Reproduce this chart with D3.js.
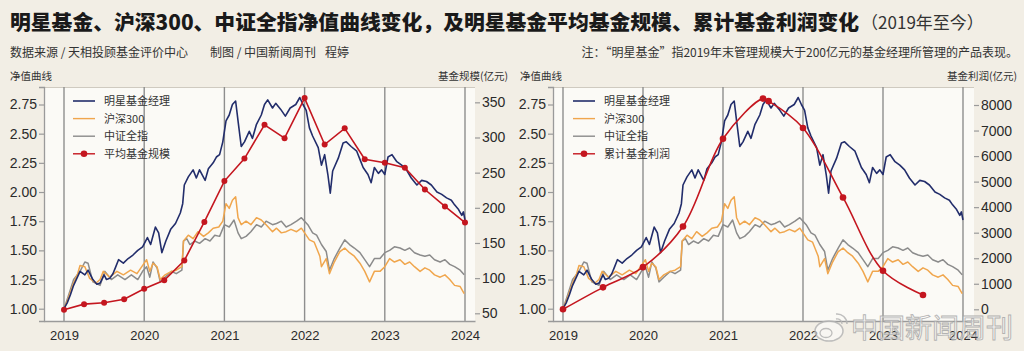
<!DOCTYPE html>
<html><head><meta charset="utf-8">
<script src="https://cdn.jsdelivr.net/npm/d3@7"></script>
<style>
html,body{margin:0;padding:0;background:#f2eee5;}
svg{display:block;}
text{font-family:"Noto Sans CJK SC","Noto Sans",sans-serif;}
</style></head>
<body>
<svg id="c" width="1024" height="351"></svg>
<script>
// ---------- data ----------
const years = [2019, 2020, 2021, 2022, 2023, 2024];
const navTicks = [1.00, 1.25, 1.50, 1.75, 2.00, 2.25, 2.50, 2.75];
const scaleTicks = [50, 100, 150, 200, 250, 300, 350];
const profitTicks = [0, 1000, 2000, 3000, 4000, 5000, 6000, 7000, 8000];
const seriesNames = ["明星基金经理", "沪深300", "中证全指"];

const starNav = [[2019.00,1.00],[2019.04,1.05],[2019.08,1.12],[2019.12,1.20],[2019.16,1.26],[2019.20,1.32],[2019.26,1.29],[2019.30,1.33],[2019.36,1.25],[2019.41,1.21],[2019.45,1.22],[2019.50,1.29],[2019.53,1.25],[2019.57,1.26],[2019.61,1.30],[2019.64,1.35],[2019.68,1.42],[2019.74,1.39],[2019.80,1.43],[2019.86,1.46],[2019.92,1.50],[2019.98,1.53],[2020.04,1.61],[2020.08,1.55],[2020.14,1.70],[2020.18,1.65],[2020.22,1.48],[2020.27,1.58],[2020.33,1.68],[2020.39,1.73],[2020.45,1.82],[2020.48,1.90],[2020.50,2.06],[2020.55,2.13],[2020.61,2.19],[2020.65,2.12],[2020.69,2.19],[2020.76,2.10],[2020.80,2.20],[2020.86,2.25],[2020.90,2.30],[2020.94,2.32],[2020.98,2.43],[2021.02,2.61],[2021.06,2.66],[2021.10,2.75],[2021.14,2.78],[2021.17,2.61],[2021.21,2.39],[2021.25,2.43],[2021.31,2.52],[2021.35,2.46],[2021.40,2.58],[2021.46,2.66],[2021.50,2.75],[2021.54,2.79],[2021.60,2.72],[2021.64,2.76],[2021.70,2.71],[2021.76,2.65],[2021.82,2.72],[2021.89,2.75],[2021.94,2.81],[2021.98,2.75],[2022.02,2.70],[2022.06,2.55],[2022.10,2.48],[2022.17,2.38],[2022.21,2.23],[2022.25,2.32],[2022.29,2.15],[2022.32,1.99],[2022.35,2.18],[2022.42,2.29],[2022.48,2.42],[2022.52,2.43],[2022.58,2.39],[2022.65,2.35],[2022.69,2.28],[2022.73,2.21],[2022.79,2.15],[2022.83,2.08],[2022.87,2.21],[2022.92,2.16],[2022.96,2.19],[2023.00,2.15],[2023.04,2.30],[2023.09,2.32],[2023.15,2.26],[2023.21,2.23],[2023.27,2.19],[2023.33,2.12],[2023.40,2.06],[2023.46,2.10],[2023.52,2.09],[2023.58,2.06],[2023.65,2.00],[2023.71,1.98],[2023.77,1.95],[2023.83,1.93],[2023.87,1.89],[2023.92,1.85],[2023.96,1.80],[2023.98,1.83],[2024.00,1.76]];

const hs300Nav = [[2019.00,1.00],[2019.05,1.08],[2019.12,1.22],[2019.17,1.30],[2019.20,1.37],[2019.26,1.36],[2019.32,1.26],[2019.40,1.22],[2019.45,1.25],[2019.49,1.32],[2019.57,1.27],[2019.66,1.32],[2019.74,1.29],[2019.83,1.33],[2019.91,1.30],[2019.97,1.36],[2020.03,1.42],[2020.07,1.32],[2020.11,1.39],[2020.16,1.36],[2020.20,1.25],[2020.26,1.29],[2020.34,1.32],[2020.40,1.33],[2020.47,1.36],[2020.49,1.58],[2020.55,1.63],[2020.61,1.60],[2020.67,1.66],[2020.74,1.62],[2020.80,1.65],[2020.86,1.69],[2020.93,1.70],[2020.98,1.75],[2021.02,1.90],[2021.06,1.86],[2021.10,1.93],[2021.14,1.96],[2021.17,1.78],[2021.21,1.72],[2021.27,1.75],[2021.33,1.72],[2021.40,1.78],[2021.46,1.76],[2021.52,1.72],[2021.60,1.66],[2021.65,1.69],[2021.71,1.65],[2021.77,1.66],[2021.83,1.68],[2021.90,1.66],[2021.96,1.69],[2022.00,1.65],[2022.06,1.59],[2022.12,1.57],[2022.19,1.45],[2022.21,1.36],[2022.27,1.43],[2022.31,1.30],[2022.37,1.40],[2022.44,1.49],[2022.50,1.52],[2022.56,1.48],[2022.62,1.45],[2022.69,1.39],[2022.75,1.32],[2022.81,1.23],[2022.87,1.32],[2022.94,1.32],[2023.00,1.36],[2023.06,1.43],[2023.12,1.40],[2023.19,1.42],[2023.25,1.38],[2023.31,1.40],[2023.37,1.36],[2023.44,1.32],[2023.50,1.35],[2023.56,1.33],[2023.62,1.29],[2023.69,1.27],[2023.75,1.29],[2023.81,1.25],[2023.87,1.20],[2023.94,1.19],[2023.99,1.13]];

const csiAllNav = [[2019.00,1.00],[2019.05,1.10],[2019.12,1.25],[2019.20,1.32],[2019.26,1.40],[2019.30,1.39],[2019.36,1.23],[2019.45,1.20],[2019.51,1.32],[2019.59,1.25],[2019.67,1.29],[2019.76,1.25],[2019.84,1.29],[2019.92,1.25],[2019.98,1.32],[2020.03,1.36],[2020.07,1.27],[2020.11,1.40],[2020.16,1.35],[2020.20,1.23],[2020.26,1.27],[2020.34,1.32],[2020.40,1.30],[2020.47,1.33],[2020.49,1.58],[2020.53,1.60],[2020.57,1.55],[2020.63,1.58],[2020.69,1.56],[2020.76,1.60],[2020.82,1.58],[2020.88,1.63],[2020.94,1.62],[2021.00,1.72],[2021.06,1.70],[2021.12,1.76],[2021.17,1.65],[2021.21,1.60],[2021.27,1.62],[2021.33,1.66],[2021.40,1.72],[2021.46,1.70],[2021.52,1.75],[2021.60,1.72],[2021.65,1.73],[2021.71,1.75],[2021.77,1.70],[2021.83,1.72],[2021.90,1.75],[2021.96,1.78],[2022.00,1.75],[2022.04,1.72],[2022.10,1.65],[2022.15,1.63],[2022.21,1.55],[2022.27,1.49],[2022.31,1.33],[2022.37,1.43],[2022.44,1.52],[2022.50,1.59],[2022.56,1.55],[2022.62,1.52],[2022.69,1.48],[2022.75,1.42],[2022.81,1.36],[2022.87,1.43],[2022.94,1.43],[2023.00,1.48],[2023.06,1.50],[2023.12,1.53],[2023.19,1.52],[2023.25,1.50],[2023.31,1.52],[2023.37,1.48],[2023.44,1.46],[2023.50,1.45],[2023.56,1.46],[2023.62,1.42],[2023.69,1.40],[2023.75,1.42],[2023.81,1.38],[2023.87,1.36],[2023.94,1.33],[2023.99,1.29]];

// average fund size (亿元), quarterly
const sizeDates = [2019.00,2019.25,2019.50,2019.75,2020.00,2020.25,2020.50,2020.75,2021.00,2021.25,2021.50,2021.75,2022.00,2022.25,2022.50,2022.75,2023.00,2023.25,2023.50,2023.75,2024.00];
const avgSize   = [55,63,65,70,85,97,125,180,238,270,318,299,356,290,313,269,264,257,226,202,179];

// cumulative fund profit (亿元)
const profitDates = [2019.00,2019.50,2020.00,2020.50,2021.00,2021.50,2021.57,2022.00,2022.50,2023.00,2023.50];
const cumProfit   = [0,860,1650,3240,6680,8250,8150,7100,4380,1510,560];

// ---------- drawing ----------
const svg = d3.select("#c");
const C = {navy:"#222d6b", orange:"#f0a64d", gray:"#8b8b8b", red:"#c4161f", grid:"#8e8e8e", axis:"#9a9a9a"};

// Title
const title = svg.append("text").attr("x",10).attr("y",30)
  .style("font-size","20.8px").style("font-weight","900").attr("fill","#1a1a1a")
  .text("明星基金、沪深300、中证全指净值曲线变化，及明星基金平均基金规模、累计基金利润变化");
const tw = title.node().getComputedTextLength();
svg.append("text").attr("x",10+tw+2).attr("y",29)
  .style("font-size","17px").attr("fill","#333").text("（2019年至今）");

svg.append("text").attr("x",10).attr("y",57).style("font-size","12px").attr("fill","#333")
  .text("数据来源 / 天相投顾基金评价中心");
svg.append("text").attr("x",210).attr("y",57).style("font-size","12px").attr("fill","#333")
  .text("制图 / 中国新闻周刊");
svg.append("text").attr("x",325).attr("y",57).style("font-size","12px").attr("fill","#333")
  .text("程婷");
svg.append("text").attr("x",1018).attr("y",57).attr("text-anchor","end").style("font-size","12px").attr("fill","#333")
  .text("注：“明星基金”指2019年末管理规模大于200亿元的基金经理所管理的产品表现。");

function panel(opt){
  const {x0,x1,xDomain,rDomain,rTicks,rTitle,rTitleX,lTitleX,redName,redT,redV,curve,dotR} = opt;
  const top=87, bot=321;
  const x = d3.scaleLinear().domain(xDomain).range([x0,x1]);
  const yL = d3.scaleLinear().domain([0.8946,2.90]).range([bot,top]);
  const yR = d3.scaleLinear().domain(rDomain).range([bot,top]);
  const g = svg.append("g");
  g.append("rect").attr("x",x0).attr("y",top).attr("width",x1-x0).attr("height",bot-top).attr("fill","#fbfaf6");
  g.append("line").attr("x1",x0).attr("x2",x1).attr("y1",top+0.5).attr("y2",top+0.5).attr("stroke","#cfcac0").attr("stroke-width",1);
  g.selectAll(".yr").data(years).join("line")
    .attr("x1",d=>x(d)).attr("x2",d=>x(d)).attr("y1",top).attr("y2",bot)
    .attr("stroke",C.grid).attr("stroke-width",1.4);
  const ax = g.append("g").attr("transform",`translate(${x0},0)`)
    .call(d3.axisLeft(yL).tickValues(navTicks).tickFormat(d3.format(".2f")).tickSize(5).tickPadding(2));
  ax.select(".domain").attr("stroke",C.axis).attr("stroke-width",1.3);
  const ar = g.append("g").attr("transform",`translate(${x1},0)`)
    .call(d3.axisRight(yR).tickValues(rTicks).tickFormat(d3.format("d")).tickSize(5).tickPadding(2));
  ar.select(".domain").remove();
  const ab = g.append("g").attr("transform",`translate(0,${bot})`)
    .call(d3.axisBottom(x).tickValues(years).tickFormat(d3.format("d")).tickSize(0).tickPadding(10));
  ab.select(".domain").attr("stroke",C.axis).attr("stroke-width",1.3);
  [ax,ar,ab].forEach(a=>{
    a.selectAll(".tick line").attr("stroke",C.axis).attr("stroke-width",1.2);
    a.selectAll(".tick text").style("font-size","14px").attr("fill","#2a2a2a")
      .style("font-family","'Liberation Sans',Arial,sans-serif");
  });
  ab.selectAll(".tick text").style("font-size","13px");
  g.append("text").attr("x",lTitleX).attr("y",80).style("font-size","10.5px").attr("fill","#333").text("净值曲线");
  g.append("text").attr("x",rTitleX).attr("y",80).attr("text-anchor","end").style("font-size","10.5px").attr("fill","#333").text(rTitle);

  const line = d3.line().x(d=>x(d[0])).y(d=>yL(d[1]));
  const clip = "clip"+x0;
  svg.append("clipPath").attr("id",clip).append("rect").attr("x",x0).attr("y",top).attr("width",x1-x0).attr("height",bot-top);
  const pg = g.append("g").attr("clip-path",`url(#${clip})`);
  pg.append("path").datum(csiAllNav).attr("d",line).attr("fill","none").attr("stroke",C.gray).attr("stroke-width",1.5).attr("stroke-linejoin","round");
  pg.append("path").datum(hs300Nav).attr("d",line).attr("fill","none").attr("stroke",C.orange).attr("stroke-width",1.5).attr("stroke-linejoin","round");
  pg.append("path").datum(starNav).attr("d",line).attr("fill","none").attr("stroke",C.navy).attr("stroke-width",1.6).attr("stroke-linejoin","round");
  const red = redT.map((t,i)=>[t,redV[i]]);
  const rl = d3.line().x(d=>x(d[0])).y(d=>yR(d[1])).curve(curve);
  pg.append("path").datum(red).attr("d",rl).attr("fill","none").attr("stroke",C.red).attr("stroke-width",1.6);
  pg.selectAll(".dot").data(red).join("circle").attr("cx",d=>x(d[0])).attr("cy",d=>yR(d[1])).attr("r",dotR).attr("fill",C.red);

  const lx = opt.legX, names = seriesNames.concat([redName]), cols=[C.navy,C.orange,C.gray,C.red];
  names.forEach((n,i)=>{
    const yy = 101 + i*17.6;
    g.append("line").attr("x1",lx).attr("x2",lx+22).attr("y1",yy).attr("y2",yy).attr("stroke",cols[i]).attr("stroke-width",i===0?1.6:1.4);
    if(i===3) g.append("circle").attr("cx",lx+11).attr("cy",yy).attr("r",3.3).attr("fill",C.red);
    g.append("text").attr("x",lx+31).attr("y",yy+4).style("font-size","11px").attr("fill","#333").text(n);
  });
}

panel({x0:44,x1:475,xDomain:[2018.7506,2024.1247],rDomain:[39.05,371.8],rTicks:scaleTicks,
  rTitle:"基金规模(亿元)",rTitleX:508,lTitleX:10,redName:"平均基金规模",redT:sizeDates,redV:avgSize,
  curve:d3.curveLinear,dotR:3,legX:73});
panel({x0:553,x1:974,xDomain:[2018.875,2024.1375],rDomain:[-458,8705],rTicks:profitTicks,
  rTitle:"基金利润(亿元)",rTitleX:1017,lTitleX:520,redName:"累计基金利润",redT:profitDates,redV:cumProfit,
  curve:d3.curveCatmullRom,dotR:3.3,legX:573});

// watermark
const wm = svg.append("g").attr("opacity",0.85);
wm.append("ellipse").attr("cx",829).attr("cy",331).attr("rx",14).attr("ry",10).attr("fill","rgba(255,255,255,0.6)").attr("stroke","#b5b5b5").attr("stroke-width",1.5);
wm.append("ellipse").attr("cx",826).attr("cy",333).attr("rx",6).attr("ry",4.5).attr("fill","none").attr("stroke","#b5b5b5").attr("stroke-width",1.3);
wm.append("path").attr("d","M836,314 a10,10 0 0 1 11,10").attr("fill","none").attr("stroke","#b5b5b5").attr("stroke-width",1.5);
wm.append("path").attr("d","M836,319 a5,5 0 0 1 6,5").attr("fill","none").attr("stroke","#b5b5b5").attr("stroke-width",1.3);
wm.append("text").attr("x",851).attr("y",338).style("font-size","27px").attr("fill","rgba(255,255,255,0.75)")
  .attr("stroke","#a8a8a8").attr("stroke-width",0.9).text("中国新闻周刊");
</script>
</body></html>
